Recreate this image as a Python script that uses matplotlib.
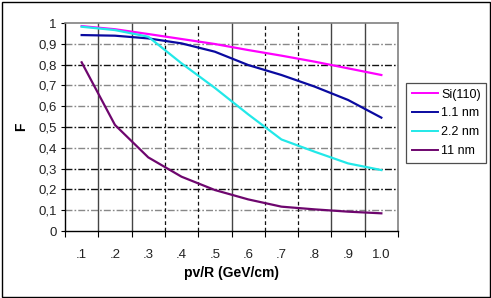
import matplotlib
matplotlib.use("Agg")
import matplotlib.pyplot as plt
from matplotlib.patches import Rectangle

# --- data ---
categories = [".1", ".2", ".3", ".4", ".5", ".6", ".7", ".8", ".9", "1.0"]
si110 = [0.985, 0.970, 0.947, 0.923, 0.899, 0.870, 0.843, 0.814, 0.782, 0.750]
nm1_1 = [0.942, 0.939, 0.926, 0.902, 0.862, 0.798, 0.750, 0.694, 0.630, 0.545]
nm2_2 = [0.982, 0.966, 0.934, 0.806, 0.688, 0.561, 0.440, 0.381, 0.325, 0.293]
nm11 = [0.811, 0.510, 0.354, 0.261, 0.197, 0.152, 0.117, 0.104, 0.093, 0.085]
y_ticks = [0, 0.1, 0.2, 0.3, 0.4, 0.5, 0.6, 0.7, 0.8, 0.9, 1]
y_labels = ["0", "0,1", "0,2", "0,3", "0,4", "0,5", "0,6", "0,7", "0,8", "0,9", "1"]

series = [
    ("Si(110)", si110, "#FF00FF"),
    ("1.1 nm", nm1_1, "#0A0AA0"),
    ("2.2 nm", nm2_2, "#22E8E8"),
    ("11 nm", nm11, "#6E066E"),
]

plt.rcParams["font.family"] = ["Liberation Sans", "DejaVu Sans"]

W, H = 491, 298
fig = plt.figure(figsize=(W / 100, H / 100), dpi=100, facecolor="white")
ax = fig.add_axes([65 / W, 1 - 231 / H, 333 / W, 208 / H])

x = list(range(1, len(categories) + 1))
ax.set_xlim(0.5, len(categories) + 0.5)
ax.set_ylim(0, 1)

# horizontal grid: dash-dot, alternating grey / black like the source
h_cols = ["#888888", "#111111", "#111111", "#888888", "#111111",
          "#888888", "#888888", "#111111", "#888888"]
for yv, c in zip(y_ticks[1:-1], h_cols):
    ax.axhline(yv, color=c, lw=1.0, dashes=(5, 1.5, 1.2, 1.5), zorder=1)

# vertical grid at category boundaries
v_solid = [True, True, False, False, True, False, False, True, True]
for i, solid in enumerate(v_solid):
    xb = i + 1.5
    if solid:
        ax.axvline(xb, color="#444444", lw=1.0, zorder=1)
    else:
        ax.axvline(xb, color="#111111", lw=0.9, dashes=(3, 2.2), zorder=1)

for name, vals, col in series:
    ax.plot(x, vals, color=col, lw=1.6, label=name, zorder=3,
            solid_joinstyle="round")

# axes styling
for s in ("left", "bottom"):
    ax.spines[s].set_color("black")
    ax.spines[s].set_linewidth(1.0)
for s in ("top", "right"):
    ax.spines[s].set_color("#808080")
    ax.spines[s].set_linewidth(1.2)

ax.set_yticks(y_ticks)
ax.set_yticklabels(y_labels)
ax.tick_params(axis="y", length=3, width=0.8, pad=3, labelsize=9.5,
               labelcolor="#222222", color="black")

ax.set_xticks([i + 0.5 for i in range(len(categories) + 1)])
ax.set_xticklabels([])
ax.tick_params(axis="x", which="major", length=4, width=0.8, color="black")
ax.set_xticks(x, minor=True)
ax.set_xticklabels(categories, minor=True)
ax.tick_params(axis="x", which="minor", length=0, pad=13, labelsize=9.5,
               labelcolor="#222222")

fig.text(232 / W, 1 - 273 / H, "pv/R (GeV/cm)", ha="center", va="center",
         fontsize=10, fontweight="bold")
fig.text(21 / W, 1 - 127 / H, "F", ha="center", va="center", rotation=90,
         fontsize=10, fontweight="bold")

leg = fig.legend(loc="upper left", bbox_to_anchor=(406 / W, 1 - 83 / H),
                 bbox_transform=fig.transFigure, fontsize=9, frameon=True,
                 fancybox=False, handlelength=2.1, handletextpad=0.25,
                 labelspacing=0.55, borderpad=0.45, borderaxespad=0)
leg.get_frame().set_edgecolor("#222222")
leg.get_frame().set_linewidth(0.9)
for line in leg.get_lines():
    line.set_linewidth(1.4)

# outer chart frame
fig.patches.append(Rectangle((1.5 / W, 1.5 / H), 488 / W, 294.5 / H,
                             transform=fig.transFigure, fill=False,
                             edgecolor="black", lw=1.0))

fig.savefig("out.png", dpi=100, facecolor="white")
